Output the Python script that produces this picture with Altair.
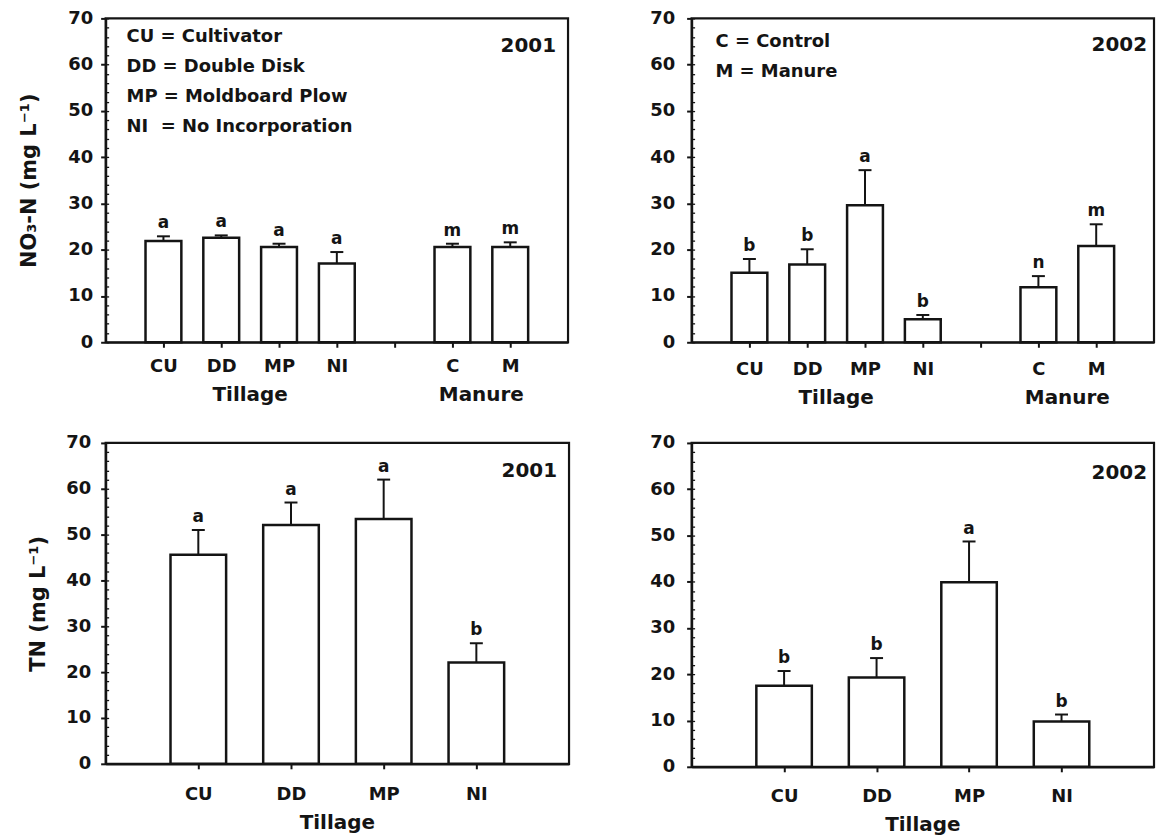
import altair as alt
import pandas as pd

FONT = "DejaVu Sans"
INK = "#141414"

# ---------------- data ----------------
top_categories = ["CU", "DD", "MP", "NI", "C", "M"]
top_positions = [1, 2, 3, 4, 6, 7]
top_groups = ["Tillage", "Tillage", "Tillage", "Tillage", "Manure", "Manure"]
top_tick_values = [1, 2, 3, 4, 5, 6, 7]
top_tick_labels = ["CU", "DD", "MP", "NI", "", "C", "M"]

bottom_categories = ["CU", "DD", "MP", "NI"]
bottom_positions = [1, 2, 3, 4]
bottom_groups = ["Tillage", "Tillage", "Tillage", "Tillage"]
bottom_tick_values = [1, 2, 3, 4]
bottom_tick_labels = ["CU", "DD", "MP", "NI"]

no3_2001_mean = [21.9, 22.6, 20.6, 17.0, 20.6, 20.6]
no3_2001_se = [1.0, 0.5, 0.7, 2.5, 0.7, 1.0]
no3_2001_letters = ["a", "a", "a", "a", "m", "m"]

no3_2002_mean = [15.0, 16.8, 29.6, 5.0, 11.9, 20.8]
no3_2002_se = [3.0, 3.3, 7.6, 0.9, 2.4, 4.7]
no3_2002_letters = ["b", "b", "a", "b", "n", "m"]

tn_2001_mean = [45.6, 52.1, 53.4, 22.1]
tn_2001_se = [5.4, 4.9, 8.6, 4.2]
tn_2001_letters = ["a", "a", "a", "b"]

tn_2002_mean = [17.5, 19.3, 39.9, 9.8]
tn_2002_se = [3.2, 4.2, 8.8, 1.5]
tn_2002_letters = ["b", "b", "a", "b"]

y_ticks = [0, 10, 20, 30, 40, 50, 60, 70]
y_minor_ticks = [0, 2, 4, 6, 8, 10, 12, 14, 16, 18, 20, 22, 24, 26, 28, 30, 32, 34,
                 36, 38, 40, 42, 44, 46, 48, 50, 52, 54, 56, 58, 60, 62, 64, 66, 68, 70]

legend_2001 = ["CU = Cultivator", "DD = Double Disk", "MP = Moldboard Plow",
               "NI\u00a0 = No Incorporation"]
legend_2002 = ["C = Control", "M = Manure"]

title_no3 = "NO\u2083-N (mg L\u207b\u00b9)"
title_tn = "TN (mg L\u207b\u00b9)"


def panel(cats, pos, groups, means, ses, letters, tick_vals, tick_labels, xmax, half,
          year, legend, ytitle, w, h, xlab_pad, group_dy, ylab_pad, ytitle_pad,
          year_dx, year_y, legend_x, legend_y):
    df = pd.DataFrame({"cat": cats, "pos": pos, "group": groups, "mean": means,
                       "se": ses, "letter": letters})
    base = alt.Chart(df).transform_calculate(
        lo=f"datum.pos - {half}", hi=f"datum.pos + {half}", top="datum.mean + datum.se")
    xs = alt.Scale(domain=[0, xmax], nice=False, zero=False)
    ys = alt.Scale(domain=[0, 70], nice=False, zero=True)
    label_map = "{" + ", ".join(f"'{v}': '{l}'" for v, l in zip(tick_vals, tick_labels)) + "}"
    x_axis = alt.Axis(values=tick_vals, labelExpr=f"{label_map}[datum.value]",
                      labelPadding=xlab_pad, title=None, labelFlush=False,
                      labelOverlap=False, grid=False)
    ykw = dict(values=y_ticks, labelPadding=ylab_pad, labelFlush=False,
               labelOverlap=False, grid=False)
    if ytitle:
        ykw["title"] = ytitle
        ykw["titlePadding"] = ytitle_pad
    else:
        ykw["title"] = None
    y_axis = alt.Axis(**ykw)

    bars = base.mark_bar(fill="white", stroke=INK, strokeWidth=2.5).encode(
        x=alt.X("lo:Q", scale=xs, axis=x_axis),
        x2="hi:Q",
        y=alt.Y("mean:Q", scale=ys, axis=y_axis),
        y2=alt.datum(0),
    )
    minor_axis = alt.Axis(orient="left", values=y_minor_ticks, labels=False, domain=False,
                          ticks=True, tickSize=3, tickWidth=1.3, offset=-3, title=None,
                          grid=False)
    err = base.mark_rule(color=INK, strokeWidth=2).encode(
        x=alt.X("pos:Q", scale=xs, axis=None),
        y=alt.Y("mean:Q", scale=ys, axis=minor_axis),
        y2="top:Q",
    )
    cap = base.mark_tick(orient="horizontal", size=13, thickness=2, color=INK,
                         opacity=1).encode(
        x=alt.X("pos:Q", scale=xs, axis=None),
        y=alt.Y("top:Q", scale=ys, axis=None),
    )
    lets = base.mark_text(baseline="bottom", dy=-4, font=FONT, fontSize=17,
                          fontWeight="bold", color=INK).encode(
        x=alt.X("pos:Q", scale=xs, axis=None),
        y=alt.Y("top:Q", scale=ys, axis=None),
        text="letter:N",
    )
    grp = base.transform_aggregate(center="mean(pos)", groupby=["group"]).mark_text(
        baseline="middle", font=FONT, fontSize=20, fontWeight="bold", color=INK).encode(
        x=alt.X("center:Q", scale=xs, axis=None),
        y=alt.value(h + group_dy),
        text="group:N",
    )
    yr = alt.Chart(pd.DataFrame({"label": [year]})).mark_text(
        align="right", baseline="middle", font=FONT, fontSize=20, fontWeight="bold",
        color=INK).encode(x=alt.value(w - year_dx), y=alt.value(year_y), text="label:N")
    layers = [bars, err, cap, lets, grp, yr]
    if legend:
        leg = alt.Chart(pd.DataFrame({"k": [0]})).mark_text(
            text=legend, align="left", baseline="middle", lineHeight=30, font=FONT,
            fontSize=18, fontWeight="bold", color=INK).encode(
            x=alt.value(legend_x), y=alt.value(legend_y))
        layers.append(leg)
    return alt.layer(*layers).resolve_axis(x="independent", y="independent").properties(
        width=w, height=h)


tl = panel(top_categories, top_positions, top_groups, no3_2001_mean, no3_2001_se,
           no3_2001_letters, top_tick_values, top_tick_labels, 8, 0.31,
           "2001", legend_2001, title_no3, 464, 325, 10, 53, 8, 28, 12, 28, 21, 19)
tr = panel(top_categories, top_positions, top_groups, no3_2002_mean, no3_2002_se,
           no3_2002_letters, top_tick_values, top_tick_labels, 8, 0.31,
           "2002", legend_2002, None, 464, 325, 13, 56, 12, 0, 7, 26.5, 24, 23.5)
bl = panel(bottom_categories, bottom_positions, bottom_groups, tn_2001_mean, tn_2001_se,
           tn_2001_letters, bottom_tick_values, bottom_tick_labels, 5, 0.30,
           "2001", None, title_tn, 465, 322, 17, 59, 10, 17, 12, 28, 0, 0)
br = panel(bottom_categories, bottom_positions, bottom_groups, tn_2002_mean, tn_2002_se,
           tn_2002_letters, bottom_tick_values, bottom_tick_labels, 5, 0.30,
           "2002", None, None, 464, 325, 16, 58, 12, 0, 7, 30, 0, 0)

chart = alt.concat(tl, tr, bl, br, columns=2,
                   spacing=alt.RowColnumber(row=101, column=123), bounds="flush").properties(
    padding={"left": 17, "top": 6, "right": 0, "bottom": 4},
    background="white",
).configure_view(stroke=INK, strokeWidth=2.2).configure_axis(
    grid=False, domainColor=INK, domainWidth=2.2, tickColor=INK, tickWidth=2, tickSize=5,
    labelFont=FONT, labelFontSize=18, labelFontWeight="bold", labelColor=INK,
    titleFont=FONT, titleFontSize=21, titleFontWeight="bold", titleColor=INK,
)

chart.save("out.html", embed_options={"renderer": "svg", "actions": False})
